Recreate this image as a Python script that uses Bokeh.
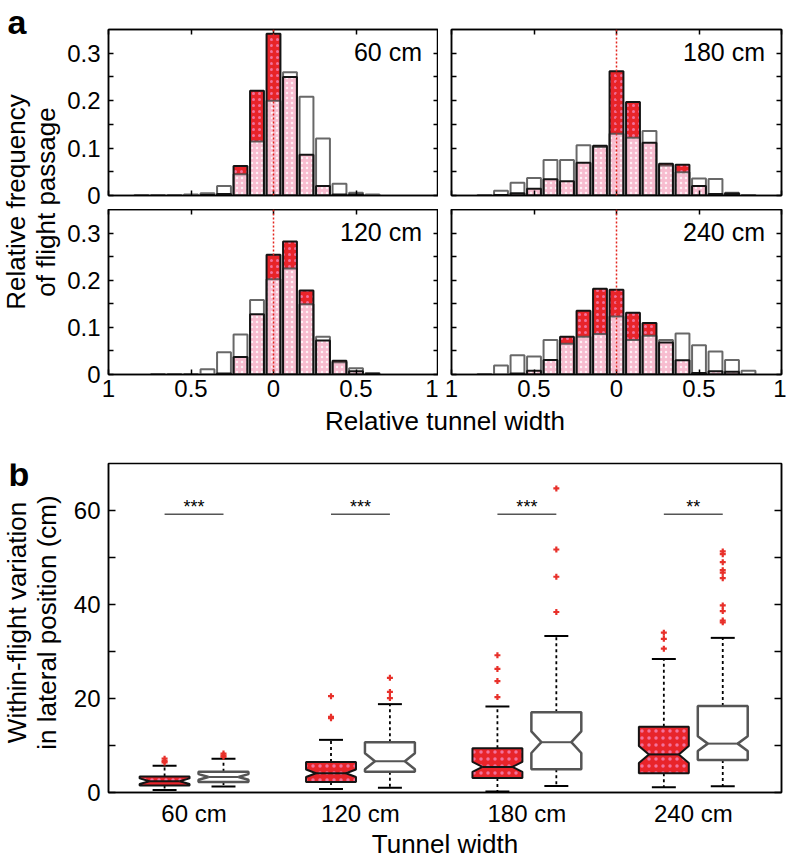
import numpy as np
from bokeh.plotting import figure
from bokeh.layouts import row, column
from bokeh.models import FixedTicker, LinearAxis, Span, CustomJSTickFormatter, Range1d
from bokeh.embed import file_html
from bokeh.resources import INLINE
from bokeh.core.properties import value

FONT = "Liberation Sans"

# ---------------- data: panel a (relative frequency per bin) ----------------
bin_centers = [-0.9, -0.8, -0.7, -0.6, -0.5, -0.4, -0.3, -0.2, -0.1, 0.0,
               0.1, 0.2, 0.3, 0.4, 0.5, 0.6, 0.7, 0.8, 0.9]
x_tick_values = [-1, -0.5, 0, 0.5, 1]
y_tick_values = [0, 0.1, 0.2, 0.3]
y_minor_values = [0.05, 0.15, 0.25]

open_60 = [0, 0.001, 0.001, 0.001, 0.002, 0.005, 0.020, 0.045, 0.114, 0.200,
           0.260, 0.208, 0.120, 0.025, 0.006, 0.002, 0, 0, 0]
pink_60 = [0, 0, 0, 0, 0, 0.001, 0.003, 0.062, 0.221, 0.341,
           0.250, 0.086, 0.020, 0.002, 0.002, 0, 0, 0, 0]
open_180 = [0, 0.001, 0.010, 0.027, 0.037, 0.075, 0.075, 0.106, 0.102, 0.130,
            0.122, 0.136, 0.063, 0.049, 0.036, 0.035, 0.006, 0.001, 0]
pink_180 = [0, 0, 0.001, 0.005, 0.014, 0.034, 0.030, 0.069, 0.105, 0.262,
            0.197, 0.111, 0.067, 0.065, 0.020, 0.003, 0.004, 0, 0]
open_120 = [0, 0, 0.001, 0.001, 0.001, 0.011, 0.047, 0.085, 0.158, 0.202,
            0.225, 0.149, 0.080, 0.026, 0.013, 0.003, 0, 0, 0]
pink_120 = [0, 0, 0, 0, 0, 0, 0.002, 0.037, 0.128, 0.254,
            0.282, 0.178, 0.072, 0.029, 0.007, 0.001, 0, 0, 0]
open_240 = [0, 0.001, 0.019, 0.041, 0.038, 0.073, 0.065, 0.080, 0.086, 0.123,
            0.073, 0.082, 0.073, 0.087, 0.062, 0.049, 0.031, 0.008, 0]
pink_240 = [0, 0, 0, 0.002, 0.008, 0.031, 0.080, 0.135, 0.182, 0.180,
            0.131, 0.109, 0.068, 0.030, 0.003, 0.007, 0.006, 0, 0]

# ---------------- data: panel b (box plots, cm) ----------------
groups = ["60 cm", "120 cm", "180 cm", "240 cm"]
group_pos = [1, 2, 3, 4]
red_lo = [0.55, 0.77, 0.2, 1.1]
red_q1 = [1.5, 2.25, 3.1, 4.1]
red_med = [2.4, 4.1, 5.45, 8.1]
red_q3 = [3.4, 6.5, 9.4, 14.0]
red_hi = [5.7, 11.2, 18.3, 28.4]
red_notch = [0.6, 0.8, 1.05, 1.8]
red_out = [[6.4, 6.7, 7.2], [15.8, 16.1, 20.5], [20.3, 23.7, 26.3, 29.2], [30.6, 32.7, 34.0]]
white_lo = [1.3, 1.0, 1.4, 1.34]
white_q1 = [2.25, 4.4, 4.95, 6.9]
white_med = [3.3, 6.65, 10.7, 10.4]
white_q3 = [4.4, 10.7, 17.1, 18.4]
white_hi = [7.2, 18.8, 33.3, 32.9]
white_notch = [0.6, 1.7, 2.3, 1.55]
white_out = [[7.6, 7.9, 8.3], [20.1, 21.4, 24.4], [38.4, 45.9, 51.7, 64.7],
             [36.2, 36.6, 38.6, 39.8, 45.6, 46.8, 47.3, 49.0, 50.7, 51.3]]
sig_level = 59.2
sig_text = ["***", "***", "***", "**"]
box_y_ticks = [0, 20, 40, 60]
box_y_minor = [10, 30, 50]

LIGHT_PINK = "#f7bccf"
RED = "#e8242a"
HOT_PINK = "#f37aa8"
OPEN_LINE = "#4d4d4d"
DARK = "#141414"


def style_axis(ax, tick_len, labels=True, size="24px", standoff=6):
    ax.axis_line_color = "black"
    ax.axis_line_width = 1.5
    ax.major_tick_line_color = "black"
    ax.major_tick_line_width = 1.5
    ax.minor_tick_line_color = "black"
    ax.minor_tick_line_width = 1.5
    ax.major_tick_in = tick_len
    ax.major_tick_out = 0
    ax.minor_tick_in = tick_len
    ax.minor_tick_out = 0
    ax.major_label_text_font = FONT
    ax.major_label_text_color = "black"
    if labels:
        ax.major_label_text_font_size = size
        ax.major_label_standoff = standoff
    else:
        ax.formatter = CustomJSTickFormatter(code="return '';")
        ax.major_label_text_font_size = "0px"
        ax.major_label_standoff = 0


def hist_panel(label, open_v, pink_v, width, height, bl, br, bt, bb, xlabels, ylabels):
    p = figure(width=width, height=height, x_range=Range1d(-1, 1), y_range=Range1d(0, 0.35),
               output_backend="svg", toolbar_location=None,
               x_axis_location=None, y_axis_location=None,
               min_border_left=bl, min_border_right=br, min_border_top=bt, min_border_bottom=bb)
    p.xgrid.visible = False
    p.ygrid.visible = False
    p.outline_line_color = "black"
    p.outline_line_width = 1.5

    c = np.array(bin_centers)
    o = np.array(open_v)
    k = np.array(pink_v)
    hw = 0.042
    low = np.minimum(o, k)
    m = low > 0
    p.quad(left=(c - hw)[m], right=(c + hw)[m], bottom=0, top=low[m],
           fill_color=LIGHT_PINK, line_color=None,
           hatch_pattern="dot", hatch_color="white", hatch_alpha=0.8, hatch_scale=5, hatch_weight=1)
    m = k > o
    p.quad(left=(c - hw)[m], right=(c + hw)[m], bottom=o[m], top=k[m],
           fill_color=RED, line_color=None,
           hatch_pattern="dot", hatch_color=HOT_PINK, hatch_alpha=0.9, hatch_scale=6, hatch_weight=2)
    m = o > 0
    p.quad(left=(c - hw)[m], right=(c + hw)[m], bottom=0, top=o[m],
           fill_color=None, line_color=OPEN_LINE, line_width=2, line_alpha=0.85)
    m = k > 0
    p.quad(left=(c - hw)[m], right=(c + hw)[m], bottom=0, top=k[m],
           fill_color=None, line_color=DARK, line_width=2)

    p.add_layout(Span(location=0, dimension="height", line_color="#e3261f",
                      line_dash="2 2", line_width=1.5, level="overlay"))
    p.text(x=[0.9], y=[0.302], text=[label], text_align="right", text_baseline="middle",
           text_font=value(FONT), text_font_size="25px", text_color="black")

    xb = LinearAxis(ticker=FixedTicker(ticks=x_tick_values))
    if xlabels:
        xb.formatter = CustomJSTickFormatter(code="return Math.abs(tick).toString();")
    style_axis(xb, 5, labels=xlabels, standoff=5)
    p.add_layout(xb, "below")
    xt = LinearAxis(ticker=FixedTicker(ticks=x_tick_values))
    style_axis(xt, 5, labels=False)
    p.add_layout(xt, "above")
    yl = LinearAxis(ticker=FixedTicker(ticks=y_tick_values, minor_ticks=y_minor_values))
    if ylabels:
        yl.formatter = CustomJSTickFormatter(
            code="var s = tick.toFixed(1); return s === '0.0' ? '0' : s;")
    style_axis(yl, 5, labels=ylabels, standoff=8)
    p.add_layout(yl, "left")
    yr = LinearAxis(ticker=FixedTicker(ticks=y_tick_values, minor_ticks=y_minor_values))
    style_axis(yr, 5, labels=False)
    p.add_layout(yr, "right")
    return p


def text_fig(w, h):
    p = figure(width=w, height=h, x_range=Range1d(0, w), y_range=Range1d(0, h),
               output_backend="svg", toolbar_location=None,
               x_axis_location=None, y_axis_location=None, min_border=0)
    p.outline_line_color = None
    p.xgrid.visible = False
    p.ygrid.visible = False
    return p


# ---------------- panel a ----------------
TL = hist_panel("60 cm", open_60, pink_60, 374, 209, 44, 0, 29, 14, False, True)
TR = hist_panel("180 cm", open_180, pink_180, 348, 209, 13, 5, 29, 14, False, False)
BL = hist_panel("120 cm", open_120, pink_120, 374, 197, 44, 0, 0, 32, True, True)
BR = hist_panel("240 cm", open_240, pink_240, 348, 197, 13, 5, 0, 32, True, False)

xlabA = text_fig(722, 34)
xlabA.text(x=[380.5], y=[19.6], text=["Relative tunnel width"], text_align="center",
           text_baseline="middle", text_font=value(FONT), text_font_size="26px", text_color="black")

ylabA = text_fig(64, 440)
ylabA.text(x=[7], y=[418.6], text=["a"], text_align="left", text_baseline="middle",
           text_font=value(FONT), text_font_size="34px", text_font_style="bold", text_color="black")
ylabA.text(x=[15, 45], y=[238.5, 238.5], text=["Relative frequency", "of flight passage"],
           angle=np.pi / 2, text_align="center", text_baseline="middle",
           text_font=value(FONT), text_font_size="26px", text_color="black")

panel_a = row(ylabA, column(row(TL, TR), row(BL, BR), xlabA))

# ---------------- panel b ----------------
box = figure(width=720, height=389, x_range=Range1d(0.486, 4.53), y_range=Range1d(0, 70),
             output_backend="svg", toolbar_location=None,
             x_axis_location=None, y_axis_location=None,
             min_border_left=44, min_border_right=3, min_border_top=23, min_border_bottom=36)
box.xgrid.visible = False
box.ygrid.visible = False
box.outline_line_color = "black"
box.outline_line_width = 1.5

BW = 0.30
INSET = 0.06
CAP = 0.072
OFF = 0.177


def notch_poly(xc, q1, med, q3, n):
    l, r = xc - BW / 2, xc + BW / 2
    lo_n = max(q1, med - n)
    hi_n = min(q3, med + n)
    xs = [l, l, l + INSET, l, l, r, r, r - INSET, r, r]
    ys = [q1, lo_n, med, hi_n, q3, q3, hi_n, med, lo_n, q1]
    return xs, ys


def draw_boxes(xcs, lo, q1, med, q3, hi, notch, outs, filled):
    xs_all, ys_all = [], []
    for i, xc in enumerate(xcs):
        xs, ys = notch_poly(xc, q1[i], med[i], q3[i], notch[i])
        xs_all.append(xs)
        ys_all.append(ys)
    xcs = np.array(xcs)
    box.segment(x0=xcs, y0=q3, x1=xcs, y1=hi, line_color="black", line_width=1.8, line_dash="3 3")
    box.segment(x0=xcs, y0=q1, x1=xcs, y1=lo, line_color="black", line_width=1.8, line_dash="3 3")
    box.segment(x0=xcs - CAP, y0=hi, x1=xcs + CAP, y1=hi, line_color="black", line_width=2)
    box.segment(x0=xcs - CAP, y0=lo, x1=xcs + CAP, y1=lo, line_color="black", line_width=2)
    if filled:
        box.patches(xs=xs_all, ys=ys_all, fill_color=RED, line_color=DARK, line_width=2,
                    hatch_pattern="dot", hatch_color=HOT_PINK, hatch_alpha=0.9,
                    hatch_scale=7, hatch_weight=2.5)
        mcol = DARK
    else:
        box.patches(xs=xs_all, ys=ys_all, fill_color="white", line_color="#555555", line_width=2.5)
        mcol = "#555555"
    box.segment(x0=xcs - BW / 2 + INSET, y0=med, x1=xcs + BW / 2 - INSET, y1=med,
                line_color=mcol, line_width=2)
    ox, oy = [], []
    for i, xc in enumerate(xcs):
        for v in outs[i]:
            ox.append(xc)
            oy.append(v)
    box.scatter(x=ox, y=oy, marker="cross", size=6, line_width=2.2, color="#e8302a")


gp = np.array(group_pos, dtype=float)
draw_boxes(gp - OFF, red_lo, red_q1, red_med, red_q3, red_hi, red_notch, red_out, True)
draw_boxes(gp + OFF, white_lo, white_q1, white_med, white_q3, white_hi, white_notch, white_out, False)

box.segment(x0=gp - OFF, y0=sig_level, x1=gp + OFF, y1=sig_level, line_color="#555555", line_width=1.5)
box.text(x=gp, y=[sig_level + 1.5] * 4, text=sig_text, text_align="center", text_baseline="middle",
         text_font=value(FONT), text_font_size="18px", text_color="black")

bx = LinearAxis(ticker=FixedTicker(ticks=group_pos),
                major_label_overrides={p: g for p, g in zip(group_pos, groups)})
style_axis(bx, 0, labels=True, size="24px", standoff=7)
box.add_layout(bx, "below")
byl = LinearAxis(ticker=FixedTicker(ticks=box_y_ticks, minor_ticks=box_y_minor))
style_axis(byl, 7, labels=True, size="24px", standoff=8)
box.add_layout(byl, "left")
byr = LinearAxis(ticker=FixedTicker(ticks=box_y_ticks, minor_ticks=box_y_minor))
style_axis(byr, 7, labels=False)
box.add_layout(byr, "right")

ylabB = text_fig(64, 389)
ylabB.text(x=[8], y=[376.6], text=["b"], text_align="left", text_baseline="middle",
           text_font=value(FONT), text_font_size="34px", text_font_style="bold", text_color="black")
ylabB.text(x=[16, 46], y=[201, 201], text=["Within-flight variation", "in lateral position (cm)"],
           angle=np.pi / 2, text_align="center", text_baseline="middle",
           text_font=value(FONT), text_font_size="26px", text_color="black")

xlabB = text_fig(784, 31)
xlabB.text(x=[444.5], y=[16.1], text=["Tunnel width"], text_align="center",
           text_baseline="middle", text_font=value(FONT), text_font_size="26px", text_color="black")

panel_b = column(row(ylabB, box), xlabB)
layout = column(panel_a, panel_b)

open("out.html", "w").write(file_html(layout, INLINE))
